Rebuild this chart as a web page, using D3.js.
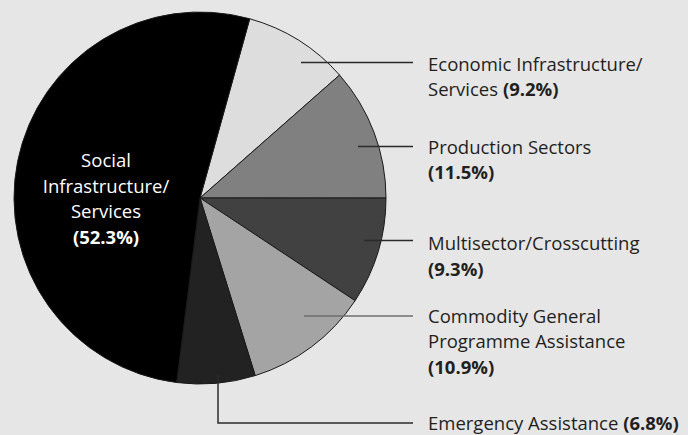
<!DOCTYPE html>
<html>
<head>
<meta charset="utf-8">
<script src="https://cdn.jsdelivr.net/npm/d3@7"></script>
<style>
  html, body { margin: 0; padding: 0; background: #e6e6e7; }
  svg { display: block; }
  text { font-family: "Open Sans", Lato, sans-serif; }
  .pct { font-weight: 700; font-stretch: 92%; }
</style>
</head>
<body>
<svg id="chart" width="688" height="435"></svg>
<script>
// ---- data ----
const categories = [
  "Economic Infrastructure/ Services",
  "Production Sectors",
  "Multisector/Crosscutting",
  "Commodity General Programme Assistance",
  "Emergency Assistance",
  "Social Infrastructure/ Services"
];
const shares = [9.2, 11.5, 9.3, 10.9, 6.8, 52.3];
const labelLines = [
  ["Economic Infrastructure/", "Services"],
  ["Production Sectors"],
  ["Multisector/Crosscutting"],
  ["Commodity General", "Programme Assistance"],
  ["Emergency Assistance"],
  ["Social", "Infrastructure/", "Services"]
];
// whether the bold percentage goes on the last text line (inline) or a new line
const pctInline = [true, false, false, false, true, false];
const fills = ["#dddddd", "#808080", "#414141", "#a4a4a4", "#222222", "#000000"];

// ---- layout ----
const W = 688, H = 435;
const cx = 200, cy = 198, R = 186;
const startDeg = 15.5;
const textX = 428;
const lineEndX = 413;
const lineH = 25.5;
const fontSize = 18.5;
const boldSize = 18.5;
// per-label: first baseline y, leader y, leader start x
const outside = [
  { base: 70.5, ly: 62.5, lx: 301 },
  { base: 153.5, ly: 146.5, lx: 358 },
  { base: 250, ly: 240.5, lx: 364 },
  { base: 322.5, ly: 316, lx: 304 },
  { base: 429.5, ly: 423, lx: 218, vertical: true }
];

const svg = d3.select("#chart");
svg.append("rect").attr("width", W).attr("height", H).attr("fill", "#e6e6e7");

const pie = d3.pie().sort(null)
  .startAngle(startDeg * Math.PI / 180)
  .endAngle(startDeg * Math.PI / 180 + 2 * Math.PI);
const arcs = pie(shares);
const arc = d3.arc().innerRadius(0).outerRadius(R);

const g = svg.append("g").attr("transform", `translate(${cx},${cy})`);
g.selectAll("path.slice").data(arcs).enter().append("path")
  .attr("class", "slice")
  .attr("d", arc)
  .attr("fill", (d, i) => fills[i])
  .attr("stroke", "#1a1a1a")
  .attr("stroke-width", 1)
  .attr("stroke-linejoin", "round");

// leader lines
outside.forEach((o, i) => {
  if (o.vertical) {
    svg.append("path")
      .attr("d", `M${o.lx},${cy + R * 0.95}V${o.ly}H${lineEndX}`)
      .attr("fill", "none").attr("stroke", "#2b2b2b").attr("stroke-width", 1.5);
  } else {
    svg.append("line")
      .attr("x1", o.lx).attr("x2", lineEndX)
      .attr("y1", o.ly).attr("y2", o.ly)
      .attr("stroke", i === 3 ? "#6e6e6e" : "#2b2b2b").attr("stroke-width", 1.5);
  }
});

function boldPct(t, txt, x, y) {
  const s = t.append("tspan").attr("class", "pct")
    .attr("font-size", boldSize).attr("letter-spacing", 0).text(txt);
  if (x !== undefined) s.attr("x", x).attr("y", y);
  return s;
}

// outside labels
outside.forEach((o, i) => {
  const t = svg.append("text").attr("x", textX).attr("y", o.base)
    .attr("font-size", fontSize).attr("fill", "#231f20");
  const lines = labelLines[i];
  lines.forEach((ln, j) => {
    t.append("tspan").attr("x", textX).attr("y", o.base + j * lineH).text(ln);
  });
  const pct = "(" + shares[i].toFixed(1) + "%)";
  if (pctInline[i]) {
    t.append("tspan").text(" ");
    boldPct(t, pct);
  } else {
    boldPct(t, pct, textX, o.base + lines.length * lineH);
  }
});

// inside label for the large slice
{
  const i = 5;
  const t = svg.append("text").attr("text-anchor", "middle")
    .attr("font-size", fontSize).attr("fill", "#ffffff");
  const bx = 106, by = 167;
  labelLines[i].forEach((ln, j) => {
    t.append("tspan").attr("x", bx).attr("y", by + j * lineH).text(ln);
  });
  boldPct(t, "(" + shares[i].toFixed(1) + "%)", bx, by + labelLines[i].length * lineH);
}
</script>
</body>
</html>
